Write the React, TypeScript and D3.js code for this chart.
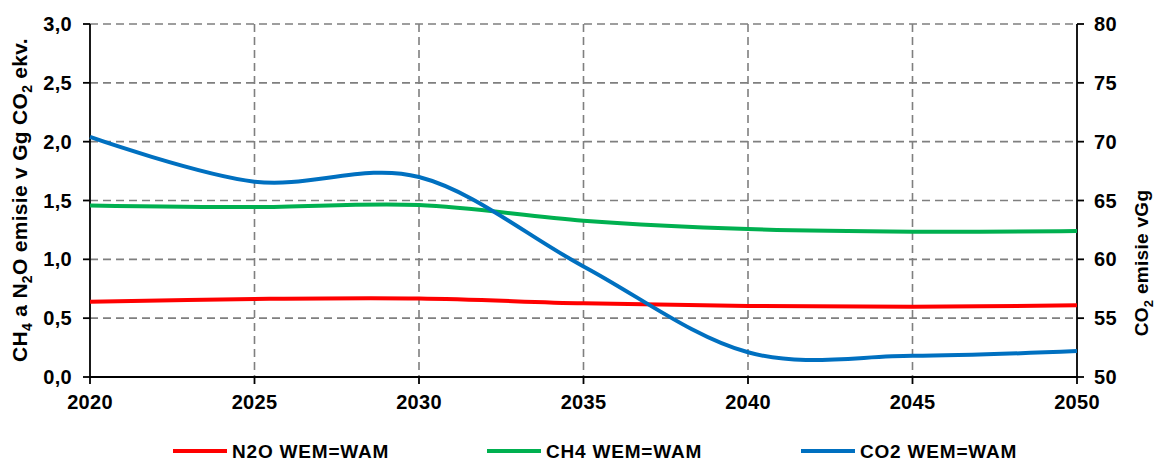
import React from 'react';
import * as d3 from 'd3';

const years = [2020, 2025, 2030, 2035, 2040, 2045, 2050];
const n2o = [0.64, 0.663, 0.667, 0.626, 0.603, 0.597, 0.609];
const ch4 = [1.458, 1.444, 1.461, 1.328, 1.257, 1.235, 1.24];
const co2 = [70.4, 66.6, 67.0, 59.4, 52.1, 51.8, 52.2];
const leftTicks = [0, 0.5, 1, 1.5, 2, 2.5, 3];
const rightTicks = [50, 55, 60, 65, 70, 75, 80];

const series = [
  { name: 'N2O WEM=WAM', values: n2o, color: '#ff0000', axis: 'left', lx: 173 },
  { name: 'CH4 WEM=WAM', values: ch4, color: '#00b050', axis: 'left', lx: 487 },
  { name: 'CO2 WEM=WAM', values: co2, color: '#0070c0', axis: 'right', lx: 801 },
];

const W = 1155;
const H = 462;
const m = { left: 90, right: 1077, top: 24, bottom: 377 };
const font = '"Liberation Sans", Arial, sans-serif';

const App = () => {
  const x = d3.scaleLinear().domain([2020, 2050]).range([m.left, m.right]);
  const yL = d3.scaleLinear().domain([0, 3]).range([m.bottom, m.top]);
  const yR = d3.scaleLinear().domain([50, 80]).range([m.bottom, m.top]);

  const fmt = (v: number) => d3.format('.1f')(v).replace('.', ',');

  const lineFor = (s: any) =>
    d3
      .line<number>()
      .x((_, i) => x(years[i]))
      .y(v => (s.axis === 'left' ? yL(v) : yR(v)))
      .curve(d3.curveCardinal.tension(0))(s.values) || '';

  const grid = '#7f7f7f';
  const txt = { fontFamily: font, fontWeight: 700, fontSize: 20, letterSpacing: 0.3 } as any;

  return (
    <svg width={W} height={H} style={{ position: 'absolute', left: 0, top: 0, background: '#fff' }}>
      {/* horizontal gridlines */}
      {leftTicks.slice(1).map(t => (
        <line key={'h' + t} x1={m.left} x2={m.right} y1={yL(t)} y2={yL(t)}
          stroke={grid} strokeWidth={1.6} strokeDasharray="8 5" />
      ))}
      {/* vertical gridlines */}
      {years.slice(1, -1).map(yr => (
        <line key={'v' + yr} x1={x(yr)} x2={x(yr)} y1={m.top} y2={m.bottom}
          stroke={grid} strokeWidth={1.6} strokeDasharray="8 5" />
      ))}

      {/* axes */}
      <line x1={m.left} x2={m.left} y1={m.top} y2={m.bottom} stroke="#000" strokeWidth={1.8} />
      <line x1={m.right} x2={m.right} y1={m.top} y2={m.bottom} stroke="#000" strokeWidth={1.8} />
      <line x1={m.left} x2={m.right} y1={m.bottom} y2={m.bottom} stroke="#000" strokeWidth={1.8} />

      {leftTicks.map(t => (
        <g key={'lt' + t}>
          <line x1={m.left - 7} x2={m.left} y1={yL(t)} y2={yL(t)} stroke="#000" strokeWidth={1.8} />
          <text x={72} y={yL(t) + 7} textAnchor="end" {...txt}>{fmt(t)}</text>
        </g>
      ))}
      {rightTicks.map(t => (
        <g key={'rt' + t}>
          <line x1={m.right} x2={m.right + 7} y1={yR(t)} y2={yR(t)} stroke="#000" strokeWidth={1.8} />
          <text x={1094} y={yR(t) + 7} textAnchor="start" {...txt}>{t}</text>
        </g>
      ))}
      {years.map(yr => (
        <g key={'xt' + yr}>
          <line x1={x(yr)} x2={x(yr)} y1={m.bottom} y2={m.bottom + 7} stroke="#000" strokeWidth={1.8} />
          <text x={x(yr)} y={409} textAnchor="middle" {...txt}>{yr}</text>
        </g>
      ))}

      {/* axis titles */}
      <text transform="translate(27,200) rotate(-90)" textAnchor="middle" {...txt} fontSize={21}>
        CH<tspan fontSize={14} dy={5}>4</tspan><tspan dy={-5}> a N</tspan>
        <tspan fontSize={14} dy={5}>2</tspan><tspan dy={-5}>O emisie v Gg CO</tspan>
        <tspan fontSize={14} dy={5}>2</tspan><tspan dy={-5}> ekv.</tspan>
      </text>
      <text transform="translate(1148,263) rotate(-90)" textAnchor="middle" {...txt} fontSize={19}>
        CO<tspan fontSize={13} dy={5}>2</tspan><tspan dy={-5}> emisie vGg</tspan>
      </text>

      {/* series */}
      {series.map(s => (
        <path key={s.name} d={lineFor(s)} fill="none" stroke={s.color} strokeWidth={4} />
      ))}

      {/* legend */}
      {series.map(s => (
        <g key={'lg' + s.name}>
          <line x1={s.lx} x2={s.lx + 54} y1={451} y2={451} stroke={s.color} strokeWidth={4} />
          <text x={s.lx + 59} y={458} {...txt} fontSize={19} letterSpacing={0.8}>{s.name}</text>
        </g>
      ))}
    </svg>
  );
};

export default App;
